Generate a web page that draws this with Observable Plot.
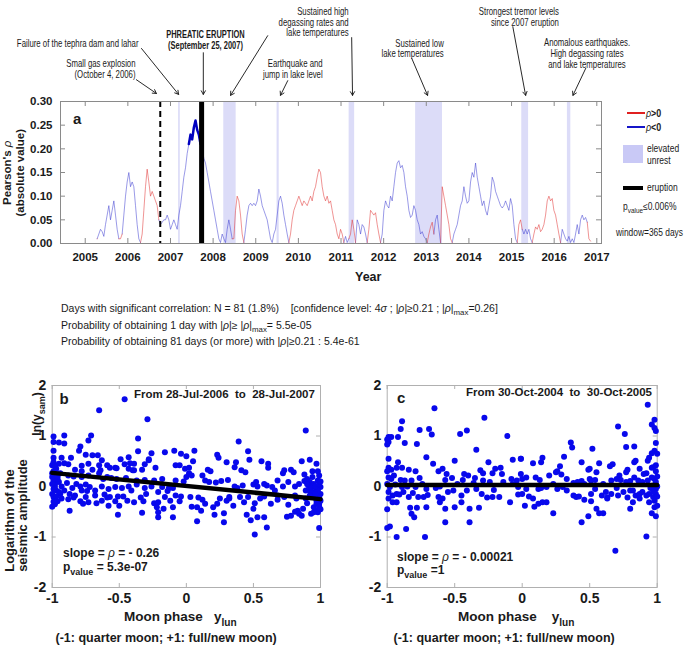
<!DOCTYPE html>
<html><head><meta charset="utf-8">
<script src="https://cdn.jsdelivr.net/npm/d3@7"></script>
<script src="https://cdn.jsdelivr.net/npm/@observablehq/plot@0.6"></script>
<style>
body{margin:0;background:#fff;}
#root{position:relative;width:685px;height:647px;overflow:hidden;background:#fff;}
.lbl{position:absolute;white-space:nowrap;line-height:1;color:#1a1a1a;}
.sub{font-size:0.75em;position:relative;top:0.45em;}
.rho{font-style:italic;font-weight:normal;}
</style></head>
<body><div id="root"></div>
<script>
// ================= DATA =================
// Panel a: running Pearson correlation (signed rho), ~14-day sampling
const rhoStartYear = 2005.28;
const rhoStepYears = 0.0391;
const rhoSigned = [
 0.01,-0.02,-0.03,-0.025,-0.015,-0.04,-0.06,-0.08,-0.05,-0.07,
 -0.09,-0.06,-0.03,-0.01,0.01,0.02,-0.06,-0.10,-0.13,-0.15,
 -0.12,-0.13,-0.12,-0.08,-0.04,-0.01,-0.002,0.02,0.07,0.12,
 0.157,0.13,0.10,0.11,0.10,0.09,0.08,0.05,-0.04,-0.045,
 -0.05,-0.05,-0.06,-0.05,-0.03,-0.04,-0.05,-0.04,-0.03,-0.06,
 -0.08,-0.11,-0.14,-0.16,-0.19,-0.21,-0.23,-0.22,-0.245,-0.26,
 -0.24,-0.23,-0.21,-0.20,-0.18,-0.17,-0.15,-0.13,-0.11,-0.09,
 -0.07,-0.05,-0.03,-0.01,-0.002,-0.02,-0.01,-0.002,-0.03,-0.05,
 -0.03,-0.01,0.01,0.07,0.10,0.09,0.06,0.02,0.002,-0.03,
 -0.06,-0.08,-0.085,-0.08,-0.085,-0.08,-0.09,-0.115,-0.10,-0.08,
 -0.07,-0.06,-0.05,-0.03,-0.01,-0.002,-0.02,-0.03,-0.06,-0.09,
 -0.10,-0.085,-0.06,-0.04,-0.02,-0.002,0.02,0.05,0.07,0.08,
 0.09,0.10,0.09,0.08,0.09,0.085,0.08,0.09,0.10,0.09,
 0.11,0.12,0.14,0.157,0.15,0.12,0.10,0.09,0.10,0.085,
 0.09,0.07,0.05,0.04,
 0.02,0.01,0.03,0.02,0.002,-0.015,-0.002,-0.01,0.02,0.05,
 0.03,0.002,-0.05,-0.04,-0.02,-0.04,-0.035,-0.02,-0.002,0.03,
 0.07,0.065,0.06,0.065,0.04,0.02,0.002,-0.02,-0.07,-0.09,
 -0.08,-0.075,-0.10,-0.09,-0.12,-0.15,-0.17,-0.175,-0.16,-0.165,
 -0.15,-0.12,-0.10,-0.07,-0.055,-0.06,-0.08,-0.07,-0.05,-0.04,
 -0.02,-0.025,-0.015,-0.01,-0.002,0.02,0.035,0.045,0.02,-0.05,
 -0.06,-0.03,-0.002,0.12,0.10,0.08,0.06,0.04,0.01,0.002,
 -0.02,-0.03,-0.04,-0.06,-0.08,-0.09,-0.12,-0.10,-0.085,-0.09,
 -0.13,-0.15,-0.14,-0.17,-0.14,-0.12,-0.10,-0.08,-0.09,-0.07,
 -0.06,-0.08,-0.10,-0.14,-0.13,-0.11,-0.10,-0.09,-0.08,-0.075,
 -0.08,-0.09,-0.08,-0.07,-0.095,-0.08,-0.04,-0.01,-0.002,0.04,
 0.05,0.03,-0.02,-0.03,-0.02,-0.03,-0.01,-0.002,0.02,0.035,
 0.03,0.04,0.025,0.03,0.04,0.06,0.09,0.10,0.09,0.095,
 0.07,0.06,0.04,0.02,0.002,-0.03,-0.02,-0.01,-0.005,-0.015,
 -0.002,-0.01,-0.002,-0.02,-0.04,-0.02,-0.05,-0.06,-0.05,-0.055,
 -0.045,0.01,0.005
];
const significanceThreshold = 0.21;
const unrestStart = [2007.19, 2008.25, 2009.50, 2011.19, 2012.75, 2015.24, 2016.31];
const unrestEnd   = [2007.23, 2008.54, 2009.55, 2011.32, 2013.38, 2015.40, 2016.39];
const smallExplosionYear = 2006.76;  // October 4, 2006
const eruptionYear = 2007.73;        // September 25, 2007
const yearTicks = [2005,2006,2007,2008,2009,2010,2011,2012,2013,2014,2015,2016,2017];
const rhoTicks = [0,0.05,0.10,0.15,0.20,0.25,0.30];
const moonTicks = [-1,-0.5,0,0.5,1];
const ampTicks = [-2,-1,0,1,2];

// Panel b: [moon phase y_lun, ln(y_sam)], 28-Jul-2006 to 28-Jul-2007
const panelBPoints = [
[-0.46,1.73],[-0.65,1.51],[-0.29,1.33],[-0.99,0.99],[-0.91,1.01],[-0.99,0.88],[-0.95,0.87],[-0.91,0.85],[-0.71,1.01],[-0.73,0.91],
[-0.79,0.79],[-0.80,0.71],[-0.36,0.95],[-0.36,0.70],[-0.28,0.54],[-0.26,0.66],[-0.16,0.68],[-0.09,0.71],[-0.04,0.65],[-0.99,0.71],
[-0.99,0.57],[-0.93,0.57],[-0.86,0.57],[-0.75,0.63],[-0.70,0.62],[-0.66,0.62],[-0.63,0.52],[-0.65,0.42],[-0.59,0.42],[-0.57,0.37],
[-0.53,0.37],[-0.49,0.54],[-0.43,0.58],[-0.39,0.45],[-0.39,0.32],[-0.46,0.44],[-0.31,0.44],[-0.28,0.52],[-0.43,0.35],[-0.99,0.48],
[-0.95,0.45],[-0.91,0.46],[-0.88,0.44],[-0.78,0.41],[-0.78,0.30],[-0.83,0.33],[-0.73,0.45],[-0.70,0.33],[-0.64,0.32],[-0.52,0.36],
[-0.42,0.46],[-0.40,0.32],[-0.33,0.33],[-0.23,0.37],[-0.08,0.42],[-0.05,0.42],[-0.01,0.35],[0.0,0.19],[-0.99,0.30],[-0.97,0.35],
[-0.94,0.26],[-0.88,0.22],[-0.84,0.20],[-0.78,0.19],[-0.73,0.22],[-0.65,0.26],[-0.62,0.15],[-0.59,0.19],[-0.56,0.17],[-0.52,0.15],
[-0.45,0.17],[-0.37,0.12],[-0.31,0.13],[-0.24,0.12],[-0.18,0.15],[-0.08,0.12],[-0.02,0.10],[-0.99,0.12],[-0.98,0.04],[-0.95,0.09],
[-0.93,0.0],[-0.89,0.07],[-0.85,-0.03],[-0.82,0.05],[-0.79,0.0],[-0.75,0.04],[-0.72,-0.01],[-0.68,-0.08],[-0.63,0.0],[-0.58,-0.05],
[-0.53,-0.01],[-0.48,-0.03],[-0.43,0.0],[-0.37,0.04],[-0.31,-0.03],[-0.26,0.0],[-0.18,-0.01],[-0.13,-0.03],[-0.10,-0.03],[-0.99,-0.05],
[-0.97,-0.08],[-0.94,-0.15],[-0.91,-0.08],[-0.87,-0.15],[-0.83,-0.18],[-0.78,-0.08],[-0.74,-0.09],[-0.68,-0.18],[-0.61,-0.16],[-0.57,-0.21],
[-0.51,-0.20],[-0.41,-0.08],[-0.30,-0.15],[-0.21,-0.11],[-0.14,-0.09],[-0.08,-0.18],[-0.99,-0.21],[-0.96,-0.29],[-0.93,-0.24],[-0.88,-0.25],
[-0.84,-0.22],[-0.79,-0.29],[-0.75,-0.21],[-0.73,-0.31],[-0.67,-0.33],[-0.63,-0.28],[-0.59,-0.22],[-0.58,-0.38],[-0.53,-0.29],[-0.47,-0.20],
[-0.44,-0.28],[-0.39,-0.31],[-0.34,-0.22],[-0.32,-0.29],[-0.24,-0.33],[-0.22,-0.41],[-0.21,-0.31],[-0.16,-0.21],[-0.12,-0.28],[-0.10,-0.41],
[-0.05,-0.29],[-0.04,-0.20],[-0.87,-0.48],[-0.77,-0.34],[-0.51,-0.56],[-0.33,-0.52],[-0.21,-0.61],[-0.10,-0.61],[-0.17,-0.44],[-0.21,-0.51],
[-0.50,-0.38],[-1.0,0.42],[-0.98,0.40],[-0.97,0.25],[-0.96,0.15],[-1.0,0.19],[-0.98,-0.01],[-0.95,-0.11],[-1.0,-0.15],[-0.97,-0.20],
[-1.0,0.26],[-0.96,0.20],[-1.0,-0.40],[-0.98,-0.35],[-1.0,0.05],[-0.99,-0.30],
[0.89,1.11],[0.39,0.89],[0.46,0.70],[0.06,0.71],[0.23,0.63],[0.24,0.57],[0.05,0.50],[0.16,0.33],[0.18,0.30],[0.30,0.48],
[0.37,0.48],[0.36,0.38],[0.41,0.32],[0.44,0.28],[0.47,0.53],[0.56,0.50],[0.61,0.45],[0.61,0.37],[0.73,0.32],[0.72,0.26],
[0.78,0.33],[0.80,0.28],[0.86,0.50],[0.92,0.53],[0.97,0.45],[0.02,0.37],[0.0,0.60],[0.02,0.26],[0.04,0.22],[0.12,0.22],
[0.14,0.12],[0.17,0.09],[0.22,0.08],[0.26,0.11],[0.31,0.13],[0.36,0.0],[0.38,-0.03],[0.42,0.02],[0.50,0.04],[0.52,0.09],
[0.53,0.0],[0.58,0.05],[0.60,0.02],[0.64,-0.01],[0.68,0.12],[0.72,0.0],[0.76,0.09],[0.81,0.0],[0.84,0.05],[0.88,0.24],
[0.88,0.11],[0.90,0.15],[0.92,0.09],[0.94,0.19],[0.95,0.05],[0.98,0.12],[0.99,0.22],[1.0,-0.01],[0.03,-0.21],[0.09,-0.22],
[0.12,-0.26],[0.14,-0.34],[0.20,-0.41],[0.21,-0.56],[0.23,-0.34],[0.28,-0.53],[0.28,-0.71],[0.32,-0.21],[0.32,-0.24],[0.35,-0.38],
[0.43,-0.31],[0.45,-0.56],[0.48,-0.67],[0.50,-0.44],[0.51,-0.33],[0.51,-0.95],[0.53,-0.61],[0.58,-0.61],[0.60,-0.81],[0.63,-0.34],
[0.68,-0.26],[0.73,-0.21],[0.76,-0.36],[0.75,-0.60],[0.78,-0.58],[0.81,-0.50],[0.83,-0.48],[0.84,-0.54],[0.86,-0.58],[0.87,-0.44],
[0.89,-0.24],[0.90,-0.33],[0.93,-0.54],[0.95,-0.41],[0.97,-0.28],[0.97,-0.48],[0.98,-0.51],[0.99,-0.82],[0.99,-0.34],[1.0,-0.15],
[0.08,-0.69],[0.08,-0.41],[0.04,-0.40],[0.11,-0.48],[0.25,-0.24],[0.30,-0.28],[0.40,-0.21],[0.46,-0.21],[0.55,-0.24],[0.58,-0.20],
[0.66,-0.08],[0.68,-0.18],[0.81,-0.18],[0.82,-0.24],[0.89,-0.08],[0.92,-0.08],[0.94,-0.11],[0.95,-0.18],[0.97,-0.05],[0.98,-0.08],
[0.99,-0.21],[1.0,-0.28],[0.97,-0.34],[0.95,-0.51],[0.91,0.02],[0.93,-0.03],[0.96,0.0],[0.99,0.05],[1.0,0.10],[0.96,-0.15],
[0.92,-0.18],[0.99,-0.40],[1.0,-0.45],[0.94,0.30],[0.98,0.30],[0.90,0.05]
];
const panelBSlope = -0.26, panelBIntercept = 0.01;

// Panel c: [moon phase y_lun, ln(y_sam)], 30-Oct-2004 to 30-Oct-2005
const panelCPoints = [
[-0.65,1.55],[-0.28,1.36],[-0.89,1.29],[-0.90,1.14],[-0.76,1.12],[-0.69,1.14],[-0.67,1.03],[-0.46,1.04],[-0.41,1.11],[-0.11,1.00],
[-0.99,0.98],[-0.97,0.98],[-0.92,0.98],[-0.87,0.86],[-0.78,0.84],[-0.34,0.73],[-0.99,0.88],[-0.71,0.58],[-0.50,0.51],[-0.25,0.48],
[-0.07,0.53],[-0.01,0.55],[-0.66,0.45],[-0.92,0.48],[-0.99,0.37],[-0.97,0.33],[-0.93,0.37],[-0.89,0.37],[-0.84,0.33],[-0.79,0.30],
[-0.62,0.30],[-0.59,0.35],[-0.56,0.25],[-0.52,0.17],[-0.43,0.25],[-0.40,0.22],[-0.35,0.17],[-0.31,0.32],[-0.29,0.26],[-0.22,0.26],
[-0.20,0.35],[-0.16,0.37],[-0.15,0.25],[-0.08,0.15],[-0.04,0.12],[-0.99,0.18],[-0.97,0.15],[-0.95,0.22],[-0.90,0.13],[-0.87,0.12],
[-0.82,0.12],[-0.76,0.17],[-0.74,0.05],[-0.71,-0.05],[-0.64,-0.03],[-0.61,0.0],[-0.57,0.13],[-0.48,0.05],[-0.44,0.13],[-0.36,0.07],
[-0.29,0.12],[-0.24,0.09],[-0.21,-0.07],[-0.14,0.09],[-0.07,0.05],[-0.03,-0.01],[-0.99,-0.11],[-0.96,-0.18],[-0.93,-0.15],[-0.91,-0.16],
[-0.88,-0.11],[-0.84,-0.21],[-0.81,-0.13],[-0.77,-0.21],[-0.73,-0.21],[-0.70,-0.17],[-0.62,-0.21],[-0.55,-0.11],[-0.51,-0.08],[-0.45,-0.18],
[-0.41,-0.08],[-0.34,-0.05],[-0.30,-0.15],[-0.26,-0.22],[-0.22,-0.21],[-0.17,-0.21],[-0.09,-0.31],[-0.03,-0.16],[-0.99,-0.24],[-0.96,-0.31],
[-0.93,-0.31],[-0.83,-0.42],[-0.78,-0.42],[-0.71,-0.41],[-0.57,-0.44],[-0.50,-0.41],[-0.45,-0.31],[-0.39,-0.44],[-0.32,-0.42],[-0.61,-0.31],
[-0.59,-0.24],[-0.82,-0.54],[-0.80,-0.61],[-0.57,-0.71],[-0.39,-0.71],[-0.98,-0.79],[-0.86,-0.84],[-0.93,-1.0],[-0.72,-1.0],[-1.0,0.05],
[-0.98,-0.01],[-0.94,0.04],[-0.89,-0.01],[-0.85,0.0],[-0.79,-0.01],[-1.0,0.93],[-1.0,0.83],[-1.0,-0.82],[-1.0,-0.45],[-1.0,0.30],[-0.99,0.55],
[0.93,1.62],[0.71,1.19],[0.98,1.32],[0.96,1.23],[0.98,1.16],[0.76,1.04],[0.36,0.87],[0.37,0.77],[0.52,0.75],[0.83,0.79],
[0.77,0.78],[0.99,0.86],[0.98,0.71],[0.96,0.66],[0.94,0.57],[0.93,0.51],[-0.01,0.55],[0.08,0.46],[0.14,0.48],[0.15,0.57],
[0.31,0.59],[0.28,0.40],[0.44,0.48],[0.49,0.33],[0.50,0.35],[0.57,0.46],[0.55,0.28],[0.65,0.40],[0.67,0.44],[0.72,0.22],
[0.77,0.28],[0.78,0.33],[0.83,0.48],[0.84,0.51],[0.87,0.35],[0.90,0.25],[0.92,0.26],[0.96,0.37],[0.97,0.38],[0.99,0.42],
[-0.01,0.25],[0.0,0.15],[0.03,0.18],[0.10,0.18],[0.13,0.13],[0.20,0.22],[0.25,0.28],[0.26,0.30],[0.29,0.24],[0.33,0.15],
[0.38,0.07],[0.41,0.09],[0.44,0.11],[0.46,0.05],[0.50,0.15],[0.51,0.12],[0.54,0.13],[0.60,0.05],[0.66,0.12],[0.70,0.15],
[0.73,0.13],[0.77,0.09],[0.80,0.11],[0.83,0.18],[0.86,0.12],[0.89,0.09],[0.93,0.12],[0.96,0.18],[0.98,0.15],[0.99,0.09],
[0.0,-0.15],[0.03,-0.05],[0.05,-0.20],[0.08,-0.24],[0.12,-0.05],[0.14,-0.03],[0.18,-0.01],[0.23,0.05],[0.26,-0.05],[0.30,-0.01],
[0.33,-0.08],[0.38,-0.18],[0.40,-0.21],[0.42,-0.20],[0.46,-0.26],[0.51,-0.15],[0.54,-0.05],[0.59,-0.18],[0.62,-0.11],[0.63,-0.22],
[0.66,-0.15],[0.71,-0.18],[0.75,-0.11],[0.78,-0.22],[0.80,-0.08],[0.82,-0.08],[0.84,-0.18],[0.87,-0.15],[0.89,-0.11],[0.92,-0.18],
[0.94,-0.15],[0.97,-0.21],[0.98,-0.28],[0.99,-0.15],[0.02,-0.38],[0.09,-0.40],[0.12,-0.34],[0.15,-0.31],[0.18,-0.31],[0.23,-0.53],
[0.44,-0.71],[0.49,-0.59],[0.51,-0.29],[0.55,-0.44],[0.57,-0.53],[0.60,-0.53],[0.63,-0.24],[0.70,-0.03],[0.80,-0.44],[0.82,-0.31],
[0.87,-0.24],[0.94,-0.31],[0.96,-0.53],[0.98,-0.41],[0.99,-0.59],[1.0,-0.38],[0.92,-0.99],[0.69,-1.27],[1.0,0.0],[0.99,-0.05],
[0.97,0.02],[0.95,-0.03],[1.0,0.20],[1.0,-0.20],[0.99,0.30],[0.97,-0.10],[1.0,0.65],[0.99,1.10]
];
const panelCSlope = -0.00021, panelCIntercept = 0.03;

// Annotations for panel a (event labels, in year / rho coordinates above the frame)
const annotTexts = [
  {x: 2006.18, y: 0.3685, label: "Small gas explosion\n(October 4, 2006)", anchor: "end", bold: false},
  {x: 2006.25, y: 0.423, label: "Failure of the tephra dam and lahar", anchor: "end", bold: false},
  {x: 2007.82, y: 0.431, label: "PHREATIC ERUPTION\n(September 25, 2007)", anchor: "middle", bold: true},
  {x: 2011.18, y: 0.468, label: "Sustained high\ndegassing rates and\nlake temperatures", anchor: "end", bold: false},
  {x: 2010.57, y: 0.3685, label: "Earthquake and\njump in lake level", anchor: "end", bold: false},
  {x: 2013.41, y: 0.412, label: "Sustained low\nlake temperatures", anchor: "end", bold: false},
  {x: 2016.11, y: 0.479, label: "Strongest tremor levels\nsince 2007 eruption", anchor: "end", bold: false},
  {x: 2016.77, y: 0.402, label: "Anomalous earthquakes.\nHigh degassing rates\nand lake temperatures", anchor: "middle", bold: false}
];
const annotArrows = [
  {x1: 2006.20, y1: 0.346, x2: 2006.67, y2: 0.317},
  {x1: 2006.32, y1: 0.412, x2: 2007.19, y2: 0.315},
  {x1: 2007.77, y1: 0.403, x2: 2007.77, y2: 0.315},
  {x1: 2009.28, y1: 0.439, x2: 2008.41, y2: 0.313},
  {x1: 2011.25, y1: 0.435, x2: 2011.27, y2: 0.313},
  {x1: 2009.75, y1: 0.344, x2: 2009.58, y2: 0.313},
  {x1: 2012.66, y1: 0.391, x2: 2013.03, y2: 0.313},
  {x1: 2015.03, y1: 0.458, x2: 2015.33, y2: 0.313},
  {x1: 2016.74, y1: 0.370, x2: 2016.44, y2: 0.313}
];

// ================= RENDER =================
const SANS = '"Liberation Sans", Arial, Helvetica, sans-serif';
const root = document.getElementById("root");

function place(svg, left, top) {
  svg.style.position = "absolute";
  svg.style.left = left + "px";
  svg.style.top = top + "px";
  root.appendChild(svg);
}
function label(html, x, y, o = {}) {
  const d = document.createElement("div");
  d.className = "lbl";
  d.innerHTML = html;
  d.style.fontSize = (o.size || 11) + "px";
  d.style.fontWeight = o.weight || "bold";
  d.style.fontFamily = SANS;
  root.appendChild(d);
  const sx = o.sx || 1;
  const w0 = d.offsetWidth, h = d.offsetHeight;
  const a = o.anchor || "start";
  if (o.rotate) {
    const cy = a === "start" ? y - w0 / 2 : a === "end" ? y + w0 / 2 : y;
    d.style.left = (x - w0 / 2) + "px";
    d.style.top = (cy - h / 2) + "px";
    d.style.transform = `rotate(${o.rotate}deg)`;
  } else {
    const w = w0 * sx;
    const left = a === "start" ? x : a === "end" ? x - w : x - w / 2;
    d.style.left = left + "px";
    d.style.top = (y - h / 2) + "px";
    d.style.transformOrigin = "0 50%";
    if (sx !== 1) d.style.transform = `scaleX(${sx})`;
  }
  return d;
}
function box(x, y, w, h, color) {
  const d = document.createElement("div");
  Object.assign(d.style, {position: "absolute", left: x + "px", top: y + "px", width: w + "px", height: h + "px", background: color});
  root.appendChild(d);
}

// ---- Panel a ----
const series = rhoSigned.map((v, i) => ({t: rhoStartYear + i * rhoStepYears, v, a: Math.abs(v)}));
const segments = [];
series.forEach((d, i) => {
  const sign = d.v >= 0 ? "pos" : "neg";
  const last = segments[segments.length - 1];
  if (!last || last.sign !== sign) segments.push({sign, pts: i > 0 ? [series[i - 1], d] : [d]});
  else last.pts.push(d);
});
const segRows = segments.flatMap((s, k) => s.pts.map(p => ({t: p.t, a: p.a, sign: s.sign, k})));
const sigRows = series.filter(d => d.a >= significanceThreshold);
const bands = unrestStart.map((s, i) => ({s, e: unrestEnd[i]}));

const A = {left: 60, right: 84, top: 101, bottom: 47, w: 685, h: 290};
const fwA = A.w - A.left - A.right, fhA = A.h - A.top - A.bottom;
const textMarks = ["end", "middle"].flatMap(anchor => [false, true].map(bold =>
  Plot.text(annotTexts.filter(d => d.anchor === anchor && d.bold === bold), {
    x: "x", y: "y", text: "label", textAnchor: anchor, lineHeight: 1.1,
    fontSize: 10, fontWeight: bold ? "bold" : "normal", fill: "#1a1a1a"
  })));

const plotA = Plot.plot({
  width: A.w, height: A.h,
  marginLeft: A.left, marginRight: A.right, marginTop: A.top, marginBottom: A.bottom,
  style: {fontFamily: SANS, fontSize: "11.5px", fontWeight: "bold", color: "#1a1a1a", background: "transparent", maxWidth: "none", overflow: "visible"},
  x: {domain: [2004.42, 2017.11], ticks: yearTicks, tickFormat: d => String(d), tickSize: 0, tickPadding: 9, label: null},
  y: {domain: [0, 0.30], ticks: rhoTicks, tickFormat: d3.format(".2f"), tickSize: 0, tickPadding: 8, label: null},
  marks: [
    Plot.rect(bands, {x1: "s", x2: "e", y1: () => 0, y2: () => 0.30, fill: "#dcdcf8"}),
    Plot.line(segRows.filter(d => d.sign === "neg"), {x: "t", y: "a", z: "k", stroke: "#3535d0", strokeOpacity: 0.5, strokeWidth: 1}),
    Plot.line(segRows.filter(d => d.sign === "pos"), {x: "t", y: "a", z: "k", stroke: "#e02a2a", strokeOpacity: 0.5, strokeWidth: 1}),
    Plot.line(sigRows, {x: "t", y: "a", stroke: "#0000c0", strokeWidth: 2.5}),
    Plot.ruleX([smallExplosionYear], {stroke: "black", strokeWidth: 2, strokeDasharray: "6,4"}),
    Plot.ruleX([eruptionYear], {stroke: "black", strokeWidth: 5}),
    Plot.frame({stroke: "#8a8a8a"}),
    Plot.tickX(yearTicks, {x: d => d, stroke: "#8a8a8a", insetTop: fhA - 5}),
    Plot.tickX(yearTicks, {x: d => d, stroke: "#8a8a8a", insetBottom: fhA - 5}),
    Plot.tickY(rhoTicks, {y: d => d, stroke: "#8a8a8a", insetRight: fwA - 5}),
    Plot.tickY(rhoTicks, {y: d => d, stroke: "#8a8a8a", insetLeft: fwA - 5}),
    Plot.arrow(annotArrows, {x1: "x1", y1: "y1", x2: "x2", y2: "y2", stroke: "#111", strokeWidth: 0.9, headLength: 7}),
    ...textMarks
  ]
});
// condense the annotation lettering (the original uses a narrow face)
plotA.querySelectorAll('g[aria-label="text"]').forEach(g => {
  const s = g.getAttribute("font-weight") === "bold" ? 0.75 : 0.78;
  g.querySelectorAll("text").forEach(t => {
    t.setAttribute("transform", (t.getAttribute("transform") || "") + ` scale(${s},1)`);
  });
});
place(plotA, 0, 0);

label("a", 77, 118, {size: 15, anchor: "middle"});
label("Year", 368, 277, {size: 12.5, anchor: "middle"});
label('Pearson\'s <span class="rho">ρ</span>', 8, 173, {size: 11.5, rotate: -90, anchor: "middle"});
label("(absolute value)", 21, 173, {size: 11.5, rotate: -90, anchor: "middle"});

// legend
box(627, 112, 18, 1.6, "#e02020");
label('<span class="rho">ρ</span>&gt;0', 646, 113, {size: 10.5, sx: 0.85});
box(627, 126, 18, 1.6, "#1515c8");
label('<span class="rho">ρ</span>&lt;0', 646, 127, {size: 10.5, sx: 0.85});
box(623, 145, 20, 18, "#c9c9f6");
label("elevated", 647, 149, {size: 10, weight: "normal", sx: 0.85});
label("unrest", 647, 160.5, {size: 10, weight: "normal", sx: 0.85});
box(623, 185.5, 20, 4, "#000");
label("eruption", 647, 187.5, {size: 10, weight: "normal", sx: 0.85});
label('p<span class="sub">value</span>≤0.006%', 623, 207, {size: 10, weight: "normal", sx: 0.85});
label("window=365 days", 616, 233, {size: 10, weight: "normal", sx: 0.84});

// statistics text
label('Days with significant correlation: N = 81 (1.8%)&nbsp;&nbsp;&nbsp;&nbsp;[confidence level: 4<span class="rho">σ</span> ; |<span class="rho">ρ</span>|≥0.21 ; |<span class="rho">ρ</span>|<span class="sub">max</span>=0.26]', 61, 308, {size: 10.5, weight: "normal"});
label('Probability of obtaining 1 day with |<span class="rho">ρ</span>|≥ |<span class="rho">ρ</span>|<span class="sub">max</span>= 5.5e-05', 61, 325, {size: 10.5, weight: "normal"});
label('Probability of obtaining 81 days (or more) with |<span class="rho">ρ</span>|≥0.21 : 5.4e-61', 61, 341, {size: 10.5, weight: "normal"});

// ---- Panels b and c ----
function scatterPlot(points, slope, intercept, width, marginLeft, marginRight) {
  const fh = 277 - 15 - 60, fw = width - marginLeft - marginRight;
  const fitEnds = [moonTicks[0], moonTicks[moonTicks.length - 1]].map(x => ({x, y: intercept + slope * x}));
  return Plot.plot({
    width, height: 277, marginTop: 15, marginBottom: 60, marginLeft, marginRight,
    style: {fontFamily: SANS, fontSize: "14px", fontWeight: "bold", color: "#1a1a1a", background: "transparent", maxWidth: "none", overflow: "visible"},
    x: {domain: [-1, 1], ticks: moonTicks, tickFormat: d => String(d), tickSize: 0, tickPadding: 6, label: null},
    y: {domain: [-2, 2], ticks: ampTicks, tickFormat: d => String(d), tickSize: 0, tickPadding: 6, label: null},
    marks: [
      Plot.frame({stroke: "#b0b0b0"}),
      Plot.tickX(moonTicks, {x: d => d, stroke: "#b0b0b0", insetTop: fh - 4}),
      Plot.tickX(moonTicks, {x: d => d, stroke: "#b0b0b0", insetBottom: fh - 4}),
      Plot.tickY(ampTicks, {y: d => d, stroke: "#b0b0b0", insetRight: fw - 4}),
      Plot.tickY(ampTicks, {y: d => d, stroke: "#b0b0b0", insetLeft: fw - 4}),
      Plot.dot(points, {x: d => d[0], y: d => d[1], r: 3, fill: "#0808ec", stroke: "none"}),
      Plot.line(fitEnds, {x: "x", y: "y", stroke: "black", strokeWidth: 4.5})
    ]
  });
}
place(scatterPlot(panelBPoints, panelBSlope, panelBIntercept, 340, 51.7, 20), 0, 370);
place(scatterPlot(panelCPoints, panelCSlope, panelCIntercept, 345, 46.7, 28.3), 340, 370);

// panel b labels
label("b", 64, 398, {size: 15, anchor: "middle"});
label("From 28-Jul-2006&nbsp; to &nbsp;28-Jul-2007", 315, 395, {size: 11.5, anchor: "end"});
label('slope = <span class="rho">ρ</span> = - 0.26', 63, 553, {size: 12});
label('p<span class="sub">value</span> = 5.3e-07', 63, 567, {size: 12});
label('Moon phase&nbsp;&nbsp; y<span class="sub">lun</span>', 124, 617, {size: 13.5});
label("(-1: quarter moon; +1: full/new moon)", 166, 638, {size: 12.5, anchor: "middle"});
label("Logarithm of the", 9, 572, {size: 13, rotate: -90, anchor: "start"});
label("seismic amplitude", 22, 572, {size: 13, rotate: -90, anchor: "start"});
label('ln(y<span class="sub">sam</span>)', 36, 414, {size: 12, rotate: -90, anchor: "middle"});

// panel c labels
label("c", 401, 397, {size: 15, anchor: "middle"});
label("From 30-Oct-2004&nbsp; to &nbsp;30-Oct-2005", 652, 393, {size: 11.5, anchor: "end"});
label('slope = <span class="rho">ρ</span> = - 0.00021', 397, 557, {size: 12});
label('p<span class="sub">value</span> =1', 397, 570, {size: 12});
label('Moon phase&nbsp;&nbsp;&nbsp; y<span class="sub">lun</span>', 458, 617, {size: 13.5});
label("(-1: quarter moon; +1: full/new moon)", 504, 638, {size: 12.5, anchor: "middle"});
</script>
</body></html>
